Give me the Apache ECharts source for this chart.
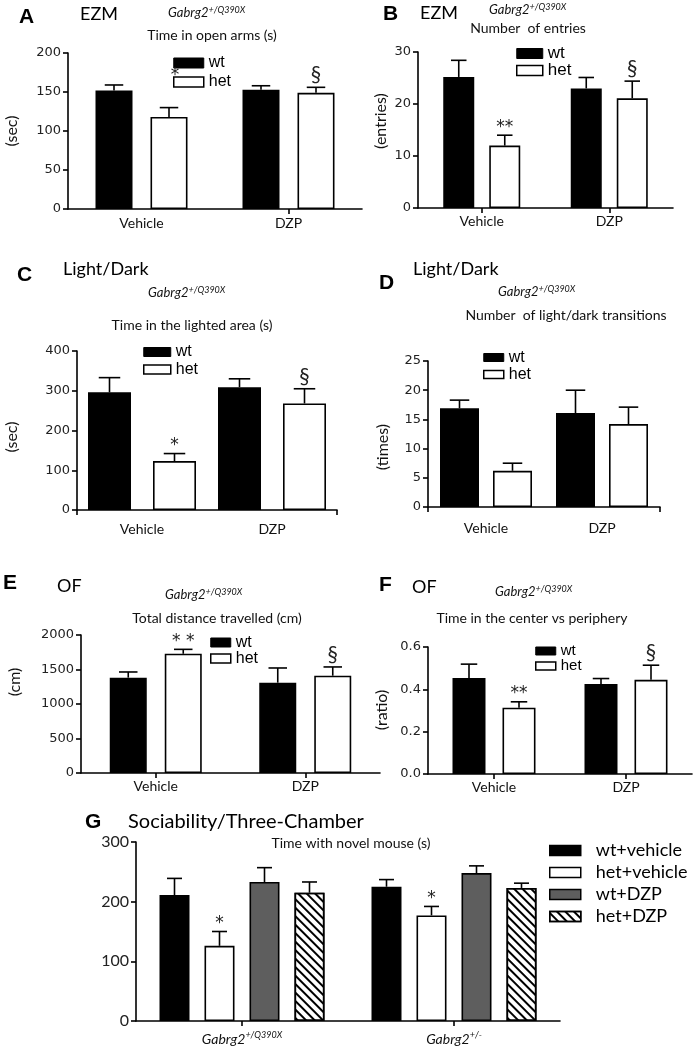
<!DOCTYPE html>
<html><head><meta charset="utf-8">
<script src="https://cdn.jsdelivr.net/npm/echarts@6/dist/echarts.min.js"></script>
<style>html,body{margin:0;padding:0;background:#fff}#c{width:693px;height:1050px}</style>
</head><body><div id="c"></div>
<script>
// ---------------- DATA ----------------
const groupCats = ['Vehicle', 'DZP'];
// A: EZM time in open arms (s)
const wtA = [152, 153], wtASem = [7, 5];
const hetA = [118, 149], hetASem = [12, 7];
const hetAMarks = ['*', '§'];
// B: EZM number of entries
const wtB = [25.2, 23.0], wtBSem = [3.2, 2.1];
const hetB = [12.0, 21.1], hetBSem = [2.0, 3.3];
const hetBMarks = ['**', '§'];
// C: Light/Dark time in lighted area (s)
const wtC = [296, 309], wtCSem = [37, 21];
const hetC = [123, 268], hetCSem = [19, 37];
const hetCMarks = ['*', '§'];
// D: Light/Dark transitions
const wtD = [16.9, 16.1], wtDSem = [1.4, 3.9];
const hetD = [6.2, 14.2], hetDSem = [1.3, 2.9];
const hetDMarks = ['', ''];
// E: OF total distance (cm)
const wtE = [1382, 1309], wtESem = [82, 213];
const hetE = [1728, 1410], hetESem = [64, 127];
const hetEMarks = ['* *', '§'];
// F: OF center vs periphery ratio
const wtF = [0.453, 0.425], wtFSem = [0.066, 0.026];
const hetF = [0.313, 0.445], hetFSem = [0.028, 0.069];
const hetFMarks = ['**', '§'];
// G: Three-chamber time with novel mouse (s)
const genoCats = ['Gabrg2+/Q390X', 'Gabrg2+/-'];
const wtVehG = [211, 225], wtVehGSem = [28, 12];
const hetVehG = [126, 177], hetVehGSem = [24, 15];
const wtDzpG = [233, 248], wtDzpGSem = [24, 12];
const hetDzpG = [215, 223], hetDzpGSem = [18, 8];
const hetVehGMarks = ['*', '*'];
// Tick settings [max, interval]
const yTicks = { A: [200, 50], B: [30, 10], C: [400, 100], D: [25, 5], E: [2000, 500], F: [0.6, 0.2], G: [300, 100] };

// ---------------- STYLE ----------------
const FT = 'Lato, "Open Sans", sans-serif';
const AR = '"Liberation Sans", Arial, sans-serif';
const DV = '"DejaVu Sans", Verdana, sans-serif';
const LW = 1.6;

const panels = [
  { key: 'A', grid: { left: 68, top: 53, width: 294, height: 156 }, bw: 37, gap: 18, tick: 'c1', lblMargin: 7,
    legend: { left: 173, cy: 63, w: 30, h: 10, sp: 19, fs: 16 }, markOff: { '1_0': [6, -24] },
    wt: [wtA, wtASem], het: [hetA, hetASem, hetAMarks] },
  { key: 'B', grid: { left: 418, top: 52, width: 255, height: 156 }, bw: 31, gap: 15, tick: 'c', lblMargin: 6,
    legend: { left: 516, cy: 53.5, w: 26, h: 10, sp: 17, fs: 17 }, wt: [wtB, wtBSem], het: [hetB, hetBSem, hetBMarks] },
  { key: 'C', grid: { left: 77, top: 351, width: 260, height: 159 }, bw: 43, gap: 22, tick: 'm', lblMargin: 12,
    legend: { left: 143, cy: 352, w: 27, h: 9, sp: 17.5, fs: 16 }, wt: [wtC, wtCSem], het: [hetC, hetCSem, hetCMarks] },
  { key: 'D', grid: { left: 428, top: 361, width: 232, height: 146 }, bw: 39, gap: 14, tick: 'm', lblMargin: 14,
    legend: { left: 483, cy: 357.5, w: 20, h: 8, sp: 17, fs: 16 }, wt: [wtD, wtDSem], het: [hetD, hetDSem, hetDMarks] },
  { key: 'E', grid: { left: 81, top: 635, width: 299, height: 138 }, bw: 37, gap: 18, tick: 'c', lblMargin: 6,
    legend: { left: 210, cy: 642.5, w: 20, h: 9, sp: 16, fs: 16 }, wt: [wtE, wtESem], het: [hetE, hetESem, hetEMarks] },
  { key: 'F', grid: { left: 428, top: 647, width: 264, height: 127 }, bw: 33, gap: 17, tick: 'c', lblMargin: 6, fmt: v => v.toFixed(1),
    legend: { left: 535, cy: 651, w: 20, h: 8, sp: 15, fs: 15 }, wt: [wtF, wtFSem], het: [hetF, hetFSem, hetFMarks] }
];

const grid = [], xAxis = [], yAxis = [], series = [], legend = [];

function errSeries(idx, bw, gap, n, slot, means, sems, marks, markOff) {
  return {
    type: 'custom', xAxisIndex: idx, yAxisIndex: idx, z: 10, silent: true,
    data: means.map((m, i) => [i, m, sems[i]]),
    renderItem: (params, api) => {
      const i = api.value(0), m = api.value(1), s = api.value(2);
      const b = api.coord([i, m]), t = api.coord([i, m + s]);
      const off = -(n * bw + (n - 1) * gap) / 2 + bw / 2 + slot * (bw + gap);
      const x = b[0] + off, cw = bw * 0.5;
      const ch = [
        { type: 'line', shape: { x1: x, y1: b[1], x2: x, y2: t[1] }, style: { stroke: '#000', lineWidth: LW } },
        { type: 'line', shape: { x1: x - cw / 2, y1: t[1], x2: x + cw / 2, y2: t[1] }, style: { stroke: '#000', lineWidth: LW } }
      ];
      const mk = marks && marks[params.dataIndex];
      if (mk) {
        const o = (markOff && markOff[slot + '_' + params.dataIndex]) || [0, 0];
        const isSec = mk === '§';
        ch.push({ type: 'text', style: {
          text: mk, x: x + o[0], y: t[1] + (isSec ? -13 : -8) + o[1], align: 'center', verticalAlign: 'middle',
          fontFamily: isSec ? FT : DV, fontSize: isSec ? 21 : 17, fill: '#222' } });
      }
      return { type: 'group', children: ch };
    }
  };
}

function axisBase() {
  return { axisLine: { show: true, lineStyle: { color: '#000', width: LW } },
           axisTick: { show: true, length: 5, lineStyle: { color: '#000', width: LW } } };
}

panels.forEach((p, idx) => {
  grid.push(p.grid);
  const tickCfg = p.tick === 'c1' ? { alignWithLabel: true, interval: (i) => i === 1 }
                : p.tick === 'm' ? { alignWithLabel: false, interval: (i) => i === 1 }
                : { alignWithLabel: true };
  const xb = axisBase();
  xAxis.push(Object.assign(xb, {
    type: 'category', gridIndex: idx, data: groupCats,
    axisTick: Object.assign(xb.axisTick, tickCfg),
    axisLabel: { margin: p.lblMargin, fontFamily: FT, fontSize: 14, color: '#111' }
  }));
  const yb = axisBase();
  const [mx, iv] = yTicks[p.key];
  yAxis.push(Object.assign(yb, {
    type: 'value', gridIndex: idx, min: 0, max: mx, interval: iv, splitLine: { show: false },
    axisLabel: { margin: 7, fontFamily: DV, fontSize: 13, color: '#222', formatter: p.fmt || (v => String(v)) }
  }));
  const barGap = (p.gap / p.bw * 100) + '%';
  series.push({ type: 'bar', name: 'wt', xAxisIndex: idx, yAxisIndex: idx, data: p.wt[0], barWidth: p.bw, barGap,
    itemStyle: { color: '#000', borderColor: '#000', borderWidth: LW } });
  series.push({ type: 'bar', name: 'het', xAxisIndex: idx, yAxisIndex: idx, data: p.het[0], barWidth: p.bw, barGap,
    itemStyle: { color: '#fff', borderColor: '#000', borderWidth: LW } });
  series.push(errSeries(idx, p.bw, p.gap, 2, 0, p.wt[0], p.wt[1], null, p.markOff));
  series.push(errSeries(idx, p.bw, p.gap, 2, 1, p.het[0], p.het[1], p.het[2], p.markOff));
  const L = p.legend;
  legend.push({
    orient: 'vertical', left: L.left, top: L.cy - L.fs / 2, padding: 0, itemWidth: L.w, itemHeight: L.h,
    itemGap: L.sp - L.fs, selectedMode: false,
    textStyle: { fontFamily: AR, fontSize: L.fs, lineHeight: L.fs, color: '#000' },
    data: [
      { name: 'wt', icon: 'rect', itemStyle: { color: '#000', borderColor: '#000', borderWidth: 1 } },
      { name: 'het', icon: 'rect', itemStyle: { color: '#fff', borderColor: '#000', borderWidth: 1.5 } }
    ]
  });
});

// ---- Panel G ----
const gi = panels.length;
const G = { bw: 30, gap: 15 };
grid.push({ left: 136, top: 842, width: 424, height: 179 });
const gxb = axisBase();
xAxis.push(Object.assign(gxb, {
  type: 'category', gridIndex: gi, data: genoCats,
  axisTick: Object.assign(gxb.axisTick, { alignWithLabel: true }),
  axisLabel: { margin: 10, color: '#111',
    formatter: v => '{i|Gabrg2}{s|' + v.replace('Gabrg2', '') + '}',
    rich: { i: { fontFamily: FT, fontStyle: 'italic', fontSize: 14 },
            s: { fontFamily: FT, fontStyle: 'italic', fontSize: 9, padding: [0, 0, 7, 0] } } }
}));
const gyb = axisBase();
yAxis.push(Object.assign(gyb, {
  type: 'value', gridIndex: gi, min: 0, max: yTicks.G[0], interval: yTicks.G[1], splitLine: { show: false },
  axisLabel: { margin: 7, fontFamily: FT, fontSize: 16, color: '#222' }
}));
const hatch = { symbol: 'rect', symbolSize: 1, color: '#000', backgroundColor: 'rgba(0,0,0,0)',
  dashArrayX: [1, 0], dashArrayY: [1.6, 4], rotation: Math.PI / 4 };
const gSeries = [
  { name: 'wt+vehicle', d: wtVehG, s: wtVehGSem, st: { color: '#000' } },
  { name: 'het+vehicle', d: hetVehG, s: hetVehGSem, st: { color: '#fff' }, marks: hetVehGMarks },
  { name: 'wt+DZP', d: wtDzpG, s: wtDzpGSem, st: { color: '#5e5e5e' } },
  { name: 'het+DZP', d: hetDzpG, s: hetDzpGSem, st: { color: '#fff', decal: hatch } }
];
gSeries.forEach((g) => {
  series.push({ type: 'bar', name: g.name, xAxisIndex: gi, yAxisIndex: gi, data: g.d, barWidth: G.bw,
    barGap: (G.gap / G.bw * 100) + '%',
    itemStyle: Object.assign({ borderColor: '#000', borderWidth: LW }, g.st) });
});
gSeries.forEach((g, k) => series.push(errSeries(gi, G.bw, G.gap, 4, k, g.d, g.s, g.marks, null)));
legend.push({
  orient: 'vertical', left: 549, top: 850 - 8.5, padding: 0, itemWidth: 31, itemHeight: 10, itemGap: 4,
  selectedMode: false,
  textStyle: { fontFamily: FT, fontSize: 18, lineHeight: 17, color: '#000', padding: [0, 0, 0, 10] },
  data: gSeries.map(g => ({ name: g.name, icon: 'rect',
    itemStyle: Object.assign({ borderColor: '#000', borderWidth: 1.5 }, g.st) }))
});

// ---- Titles (graphic texts) ----
function sup(x, y) {
  return { type: 'text', x, y, style: { text: '{i|Gabrg2}{s|+/Q390X}', verticalAlign: 'middle', fill: '#111',
    rich: { i: { fontFamily: FT, fontStyle: 'italic', fontSize: 13 },
            s: { fontFamily: FT, fontStyle: 'italic', fontSize: 9, padding: [0, 0, 6, 0] } } } };
}
function txt(x, y, t, opt) {
  return { type: 'text', x, y, rotation: (opt && opt.rot) || 0,
    style: Object.assign({ text: t, fontFamily: FT, fontSize: 14, fill: '#111', align: 'left', verticalAlign: 'middle' }, opt && opt.st) };
}
const letter = (x, y, t) => txt(x, y, t, { st: { fontFamily: AR, fontWeight: 'bold', fontSize: 21, fill: '#000' } });
const head = (x, y, t) => txt(x, y, t, { st: { fontSize: 18, fill: '#000' } });
const sub = (x, y, t) => txt(x, y, t, { st: { align: 'center', fontSize: 14 } });
const yname = (x, y, t) => txt(x, y, t, { rot: Math.PI / 2, st: { align: 'center', fontSize: 16, fill: '#111' } });

const graphic = [
  letter(19, 17, 'A'), head(80, 14, 'EZM'), sup(168, 13), sub(212, 35, 'Time in open arms (s)'), yname(12, 131, '(sec)'),
  letter(383, 14, 'B'), head(420, 13, 'EZM'), sup(489, 10), sub(528, 28, 'Number  of entries'), yname(381, 121, '(entries)'),
  letter(17, 275, 'C'), head(63, 269, 'Light/Dark'), sup(148, 293), sub(192, 325, 'Time in the lighted area (s)'), yname(12, 437, '(sec)'),
  letter(379, 283, 'D'), head(413, 269, 'Light/Dark'), sup(498, 292), sub(566, 315, 'Number  of light/dark transitions'), yname(383, 447, '(times)'),
  letter(3, 583, 'E'), head(57, 586, 'OF'), sup(165, 595), sub(217, 618, 'Total distance travelled (cm)'), yname(15, 682, '(cm)'),
  letter(379, 585, 'F'), head(412, 587, 'OF'), sup(495, 592), sub(532, 618, 'Time in the center vs periphery'), yname(382, 710, '(ratio)'),
  letter(85, 822, 'G'), txt(128, 822, 'Sociability/Three-Chamber', { st: { fontSize: 20, fill: '#000' } }),
  sub(351, 843, 'Time with novel mouse (s)')
];

const chart = echarts.init(document.getElementById('c'), null, { renderer: 'canvas' });
chart.setOption({ animation: false, grid, xAxis, yAxis, series, legend, graphic });
</script></body></html>
